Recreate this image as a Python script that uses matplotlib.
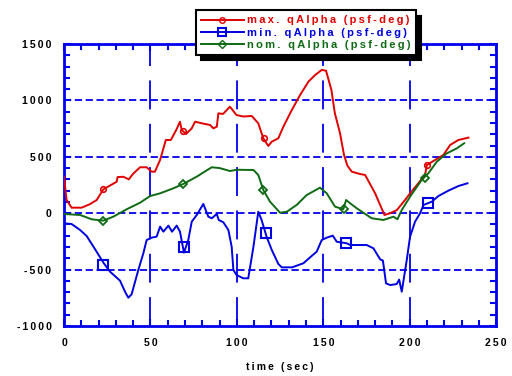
import matplotlib.pyplot as plt
from matplotlib.lines import Line2D
from matplotlib.ticker import MultipleLocator, FuncFormatter

# max. qAlpha
red_t = [0, 1.5, 4.4, 10.2, 15, 18.9, 22.8, 26, 30.5, 31,
         34.3, 37.5, 40, 44, 47.8, 50.7, 52.6, 55.6, 58.9, 61.8,
         65, 67.1, 68.1, 70.6, 73.9, 75.8, 79.7, 84.5, 86.4, 88.4,
         89.3, 92, 96, 99.8, 103.7, 108.6, 112.4, 115.3, 118.2, 120.2,
         124, 126.9, 131.8, 136.6, 141.4, 145.3, 149.1, 151.6, 154.7, 156.7,
         159.7, 162, 164, 166.5, 171.3, 174.2, 180, 185.4, 188.7, 192.6,
         197.3, 200.2, 205, 208.9, 209.9, 214.7, 219.5, 223.4, 228.2, 234]
red_v = [323, 117, 49, 49, 80, 117, 212, 240, 279, 320,
         323, 300, 350, 407, 407, 368, 368, 472, 649, 649,
         740, 811, 738, 702, 752, 811, 797, 782, 752, 767,
         885, 880, 944, 870, 857, 862, 797, 664, 596, 634,
         664, 767, 915, 1048, 1166, 1225, 1270, 1263, 1092, 886,
         708, 516, 420, 368, 347, 339, 176, -16, 0, 28,
         117, 176, 265, 339, 427, 472, 516, 605, 649, 670]

# min. qAlpha
blue_t = [0, 4.4, 9.3, 13.1, 18, 22.8, 26.6, 32.4, 35.3, 37.2,
          39.1, 43, 45.9, 47.8, 50.7, 53.6, 55.6, 57.5, 60.4, 62.5,
          65.2, 67.1, 69.4, 71.9, 73.9, 76.8, 80.6, 83.5, 85.5, 88.4,
          89.5, 92.2, 95.1, 97, 98, 99.8, 103.7, 106.6, 109.6, 112.4,
          114.3, 117.2, 120.2, 124, 126, 132, 138.5, 142.4, 146.2, 149.1,
          152, 155.5, 157.8, 163.6, 165.5, 175.1, 179, 182.9, 184.5, 186.3,
          188.7, 192.5, 193.9, 195.4, 198.3, 200.2, 203.1, 206, 208, 212.8,
          216.6, 222.4, 228.2, 233.4]
blue_v = [-90, -96, -149, -202, -320, -439, -518, -598, -696, -749,
          -720, -503, -356, -238, -217, -208, -119, -164, -110, -164,
          -110, -164, -350, -238, -75, -16, 82, -31, -45, -7,
          -60, -81, -149, -297, -503, -548, -577, -577, -297, 13,
          -60, -208, -326, -450, -480, -480, -444, -391, -341, -238,
          -217, -199, -253, -267, -282, -282, -311, -409, -420, -622,
          -637, -628, -589, -696, -415, -208, -75, 0, 73, 102,
          152, 200, 241, 265]

# nom. qAlpha
green_t = [0, 9.3, 16, 22.7, 28.5, 36.3, 44, 49.8, 55.6, 63.3,
           69, 76.8, 84.5, 85.5, 90, 96, 100, 109.6, 112.4, 115.3,
           119.2, 125, 128.9, 134.6, 140.4, 148.1, 152, 156.8, 161.6, 163.2,
           165.5, 169.4, 178, 184.8, 190.6, 192.9, 195.4, 200.2, 206.9, 210.8,
           215.7, 221.5, 227.3, 231.5]
green_v = [-7, -16, -54, -66, -31, 35, 93, 152, 176, 221,
           259, 324, 398, 407, 400, 374, 385, 383, 339, 206,
           102, 4, 13, 73, 161, 226, 176, 58, 35, 117,
           88, 43, -45, -60, -31, -54, 28, 146, 294, 354,
           457, 531, 575, 620]

# marker positions
red_mt = [22.8, 68.7, 115.7, 209.9]
red_mv = [212, 731, 664, 427]
blue_mt = [22.8, 69.4, 116.9, 163.2, 210.3]
blue_mv = [-459, -297, -173, -267, 93]
green_mt = [22.7, 68.8, 115, 162, 208.9]
green_mv = [-66, 259, 206, 40, 309]

labels = ['max. qAlpha (psf-deg)', 'min. qAlpha (psf-deg)', 'nom. qAlpha (psf-deg)']

RED = '#e00000'
BLUE = '#0000e0'
GREEN = '#0f6a14'
AXC = '#0000ee'

plt.rcParams['font.family'] = ['Liberation Sans', 'DejaVu Sans']
plt.rcParams['font.weight'] = 'bold'


def spaced(s):
    return '\u2009'.join(s)


fig = plt.figure(figsize=(5.12, 3.76), dpi=100)
ax = fig.add_axes([0.125, 0.133, 0.844, 0.750])

# grid
for yv in [-500, 0, 500, 1000]:
    ax.axhline(yv, color=AXC, lw=1.3, dashes=(4, 2), zorder=1)
for xv in [50, 100, 150, 200]:
    ax.axvline(xv, color=AXC, lw=1.3, dashes=(16, 8), zorder=1)

ax.plot(red_t, red_v, color=RED, lw=1.4, zorder=3)
ax.plot(blue_t, blue_v, color=BLUE, lw=1.4, zorder=3)
ax.plot(green_t, green_v, color=GREEN, lw=1.4, zorder=3)

ax.plot(red_mt, red_mv, ls='none', marker='o', ms=4, mfc='none', mec=RED, mew=1.2, zorder=4)
ax.plot(blue_mt, blue_mv, ls='none', marker='s', ms=6.5, mfc='none', mec=BLUE, mew=1.5, zorder=4)
ax.plot(green_mt, green_mv, ls='none', marker='D', ms=4, mfc='none', mec=GREEN, mew=1.3, zorder=4)

ax.set_xlim(0, 250)
ax.set_ylim(-1000, 1500)
ax.xaxis.set_major_locator(MultipleLocator(50))
ax.xaxis.set_minor_locator(MultipleLocator(10))
ax.yaxis.set_major_locator(MultipleLocator(500))
ax.yaxis.set_minor_locator(MultipleLocator(100))
fmt = FuncFormatter(lambda v, p: spaced('%d' % v))
ax.xaxis.set_major_formatter(fmt)
ax.yaxis.set_major_formatter(fmt)

for s in ax.spines.values():
    s.set_color(AXC)
    s.set_linewidth(2)
ax.tick_params(which='both', direction='in', color=AXC, width=1.5,
               top=True, right=True, labelsize=7.5, labelcolor='black')
ax.tick_params(which='major', length=5)
ax.tick_params(which='minor', length=4)
ax.tick_params(axis='x', pad=9)
ax.tick_params(axis='y', pad=9)
for lab in ax.get_xticklabels() + ax.get_yticklabels():
    lab.set_fontweight('bold')

ax.set_xlabel(spaced('time (sec)'), fontsize=7.5, fontweight='bold', labelpad=10)

handles = [
    Line2D([], [], color=RED, lw=1.4, marker='o', ms=4, mfc='none', mec=RED),
    Line2D([], [], color=BLUE, lw=1.4, marker='s', ms=6, mfc='none', mec=BLUE, mew=1.5),
    Line2D([], [], color=GREEN, lw=1.4, marker='D', ms=4, mfc='none', mec=GREEN),
]
leg = fig.legend(handles, [spaced(l) for l in labels], loc='upper center',
                 bbox_to_anchor=(0.597, 0.987), numpoints=1, fontsize=8,
                 labelcolor=[RED, BLUE, GREEN], handlelength=3.9,
                 handletextpad=0.3, borderpad=0.45, labelspacing=0.2,
                 fancybox=False, shadow={'color': 'black', 'alpha': 1, 'ox': 4, 'oy': -4},
                 framealpha=1)
leg.get_frame().set_edgecolor('black')
leg.get_frame().set_linewidth(1.5)
for t in leg.get_texts():
    t.set_fontweight('bold')

fig.savefig('out.png', dpi=100)
